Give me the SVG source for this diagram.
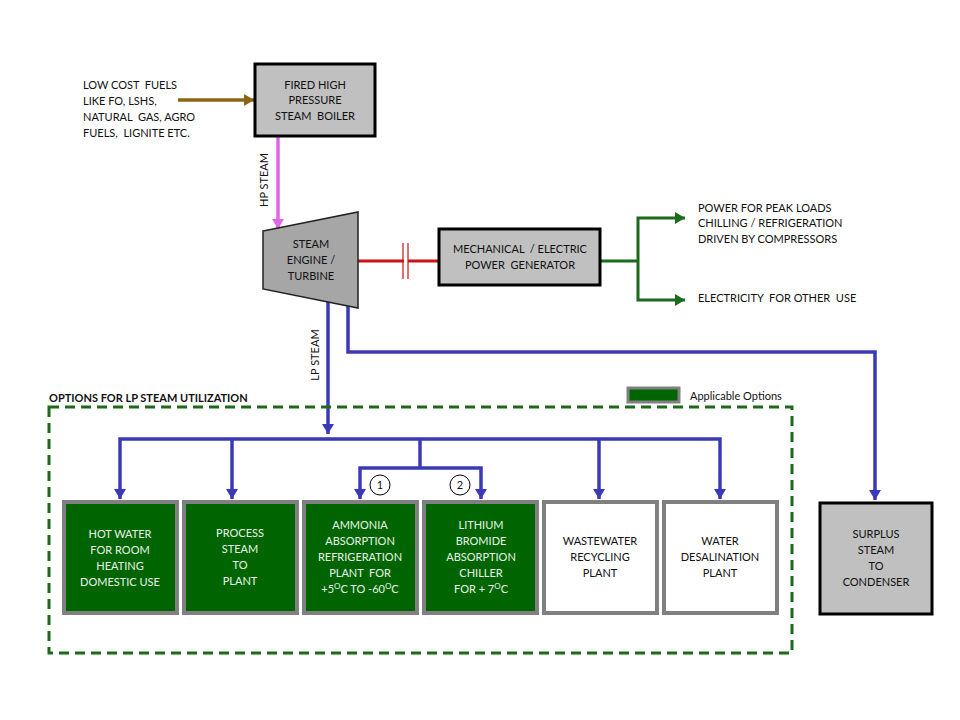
<svg xmlns="http://www.w3.org/2000/svg" width="960" height="720" viewBox="0 0 960 720">
<style>
text{font-family:Lato,"Liberation Sans",sans-serif;font-size:11px;fill:#111;white-space:pre}
.c{text-anchor:middle}
.w{fill:#e8f4e8}
.grey{fill:#c0c0c0;stroke:#000;stroke-width:3}
.opt{fill:#006400;stroke:#808080;stroke-width:4}
.optw{fill:#fff;stroke:#808080;stroke-width:4}
.blue{fill:none;stroke:#3a3ab8;stroke-width:3.5}
.green{fill:none;stroke:#1b6b1b;stroke-width:3}
</style>
<defs>
<marker id="ab" markerUnits="userSpaceOnUse" markerWidth="12" markerHeight="12" refX="10" refY="6" orient="auto"><path d="M0,0 L10,6 L0,12 z" fill="#3a3ab8"/></marker>
<marker id="ag" markerUnits="userSpaceOnUse" markerWidth="12" markerHeight="12" refX="10" refY="6" orient="auto"><path d="M0,0 L10,6 L0,12 z" fill="#1b6b1b"/></marker>
<marker id="ap" markerUnits="userSpaceOnUse" markerWidth="12" markerHeight="12" refX="10" refY="6" orient="auto"><path d="M0,0 L10,6 L0,12 z" fill="#e066e8"/></marker>
<marker id="abr" markerUnits="userSpaceOnUse" markerWidth="12" markerHeight="12" refX="10" refY="6" orient="auto"><path d="M0,0 L10,6 L0,12 z" fill="#8c6414"/></marker>
</defs>

<g id="fuel-text">
<text x="83" y="89" xml:space="preserve">LOW COST  FUELS</text>
<text x="83" y="105">LIKE FO, LSHS,</text>
<text x="83" y="121" xml:space="preserve">NATURAL  GAS, AGRO</text>
<text x="83" y="137" xml:space="preserve">FUELS,  LIGNITE ETC.</text>
</g>

<g id="connectors">
<line x1="178" y1="100" x2="254" y2="100" stroke="#8c6414" stroke-width="3.5" marker-end="url(#abr)"/>
<line x1="278" y1="137" x2="278" y2="229" stroke="#e066e8" stroke-width="3.5" marker-end="url(#ap)"/>
<line x1="358" y1="261" x2="404" y2="261" stroke="#cc1111" stroke-width="3"/>
<line x1="408" y1="261" x2="439" y2="261" stroke="#cc1111" stroke-width="3"/>
<line x1="403" y1="243" x2="403" y2="279" stroke="#cc1111" stroke-width="1.2"/>
<line x1="408" y1="243" x2="408" y2="279" stroke="#cc1111" stroke-width="1.2"/>
<polyline class="green" points="601,261 638,261"/>
<polyline class="green" points="638,261 638,218 685,218" marker-end="url(#ag)"/>
<polyline class="green" points="638,261 638,300 685,300" marker-end="url(#ag)"/>
<line class="blue" x1="328" y1="301" x2="328" y2="434" marker-end="url(#ab)"/>
<polyline class="blue" points="348,306 348,352 875,352 875,500" marker-end="url(#ab)"/>
<polyline class="blue" points="420,439 120,439 120,499" marker-end="url(#ab)"/>
<polyline class="blue" points="420,439 720,439 720,499" marker-end="url(#ab)"/>
<line class="blue" x1="232" y1="439" x2="232" y2="499" marker-end="url(#ab)"/>
<line class="blue" x1="599" y1="439" x2="599" y2="499" marker-end="url(#ab)"/>
<line class="blue" x1="420" y1="439" x2="420" y2="468"/>
<polyline class="blue" points="420,468 360,468 360,499" marker-end="url(#ab)"/>
<polyline class="blue" points="420,468 481,468 481,499" marker-end="url(#ab)"/>
<text class="c" transform="translate(268,180) rotate(-90)">HP STEAM</text>
<text class="c" transform="translate(319,355) rotate(-90)">LP STEAM</text>
<circle cx="380" cy="485" r="10" fill="#fff" stroke="#000" stroke-width="1"/>
<text class="c" x="380" y="489">1</text>
<circle cx="460" cy="485" r="10" fill="#fff" stroke="#000" stroke-width="1"/>
<text class="c" x="460" y="489">2</text>
</g>

<g id="boiler">
<rect class="grey" x="255" y="64" width="120" height="72"/>
<text class="c" x="315" y="89">FIRED HIGH</text>
<text class="c" x="315" y="104">PRESSURE</text>
<text class="c" x="315" y="120" xml:space="preserve">STEAM  BOILER</text>
</g>

<g id="turbine">
<polygon points="263,231 358,212 358,308 263,289" fill="#a6a6a6" stroke="#222" stroke-width="1.5"/>
<text class="c" x="311" y="248">STEAM</text>
<text class="c" x="311" y="264">ENGINE /</text>
<text class="c" x="311" y="280">TURBINE</text>
</g>

<g id="generator">
<rect class="grey" x="439" y="229" width="161" height="56"/>
<text class="c" x="520" y="253" xml:space="preserve">MECHANICAL  / ELECTRIC</text>
<text class="c" x="520" y="269" xml:space="preserve">POWER  GENERATOR</text>
</g>

<g id="power-text">
<text x="698" y="212">POWER FOR PEAK LOADS</text>
<text x="698" y="227">CHILLING / REFRIGERATION</text>
<text x="698" y="243">DRIVEN BY COMPRESSORS</text>
<text x="698" y="302" xml:space="preserve">ELECTRICITY  FOR OTHER  USE</text>
</g>

<g id="options-frame">
<rect x="49" y="407" width="743" height="246" fill="none" stroke="#1b6b1b" stroke-width="3" stroke-dasharray="10,6"/>
<text x="49" y="402" font-weight="bold">OPTIONS FOR LP STEAM UTILIZATION</text>
</g>

<g id="legend">
<rect x="628" y="388" width="51" height="14" fill="#006400" stroke="#808080" stroke-width="3"/>
<text x="690" y="400">Applicable Options</text>
</g>

<g id="hot-water">
<rect class="opt" x="64" y="502" width="113" height="111"/>
<text class="c w" x="120" y="538">HOT WATER</text>
<text class="c w" x="120" y="554">FOR ROOM</text>
<text class="c w" x="120" y="570">HEATING</text>
<text class="c w" x="120" y="586">DOMESTIC USE</text>
</g>

<g id="process-steam">
<rect class="opt" x="184" y="502" width="113" height="111"/>
<text class="c w" x="240" y="537">PROCESS</text>
<text class="c w" x="240" y="553">STEAM</text>
<text class="c w" x="240" y="569">TO</text>
<text class="c w" x="240" y="585">PLANT</text>
</g>

<g id="ammonia">
<rect class="opt" x="304" y="502" width="113" height="111"/>
<text class="c w" x="360" y="529">AMMONIA</text>
<text class="c w" x="360" y="545">ABSORPTION</text>
<text class="c w" x="360" y="561">REFRIGERATION</text>
<text class="c w" x="360" y="577" xml:space="preserve">PLANT  FOR</text>
<text class="c w" x="360" y="593">+5<tspan font-size="8" dy="-4">O</tspan><tspan dy="4">C TO -60</tspan><tspan font-size="8" dy="-4">O</tspan><tspan dy="4">C</tspan></text>
</g>

<g id="lithium">
<rect class="opt" x="424" y="502" width="113" height="111"/>
<text class="c w" x="481" y="529">LITHIUM</text>
<text class="c w" x="481" y="545">BROMIDE</text>
<text class="c w" x="481" y="561">ABSORPTION</text>
<text class="c w" x="481" y="577">CHILLER</text>
<text class="c w" x="481" y="593">FOR + 7<tspan font-size="8" dy="-4">O</tspan><tspan dy="4">C</tspan></text>
</g>

<g id="wastewater">
<rect class="optw" x="544" y="502" width="113" height="111"/>
<text class="c" x="600" y="545">WASTEWATER</text>
<text class="c" x="600" y="561">RECYCLING</text>
<text class="c" x="600" y="577">PLANT</text>
</g>

<g id="desalination">
<rect class="optw" x="664" y="502" width="113" height="111"/>
<text class="c" x="720" y="545">WATER</text>
<text class="c" x="720" y="561">DESALINATION</text>
<text class="c" x="720" y="577">PLANT</text>
</g>

<g id="surplus">
<rect class="grey" x="820" y="503" width="112" height="111"/>
<text class="c" x="876" y="538">SURPLUS</text>
<text class="c" x="876" y="554">STEAM</text>
<text class="c" x="876" y="570">TO</text>
<text class="c" x="876" y="586">CONDENSER</text>
</g>
</svg>
